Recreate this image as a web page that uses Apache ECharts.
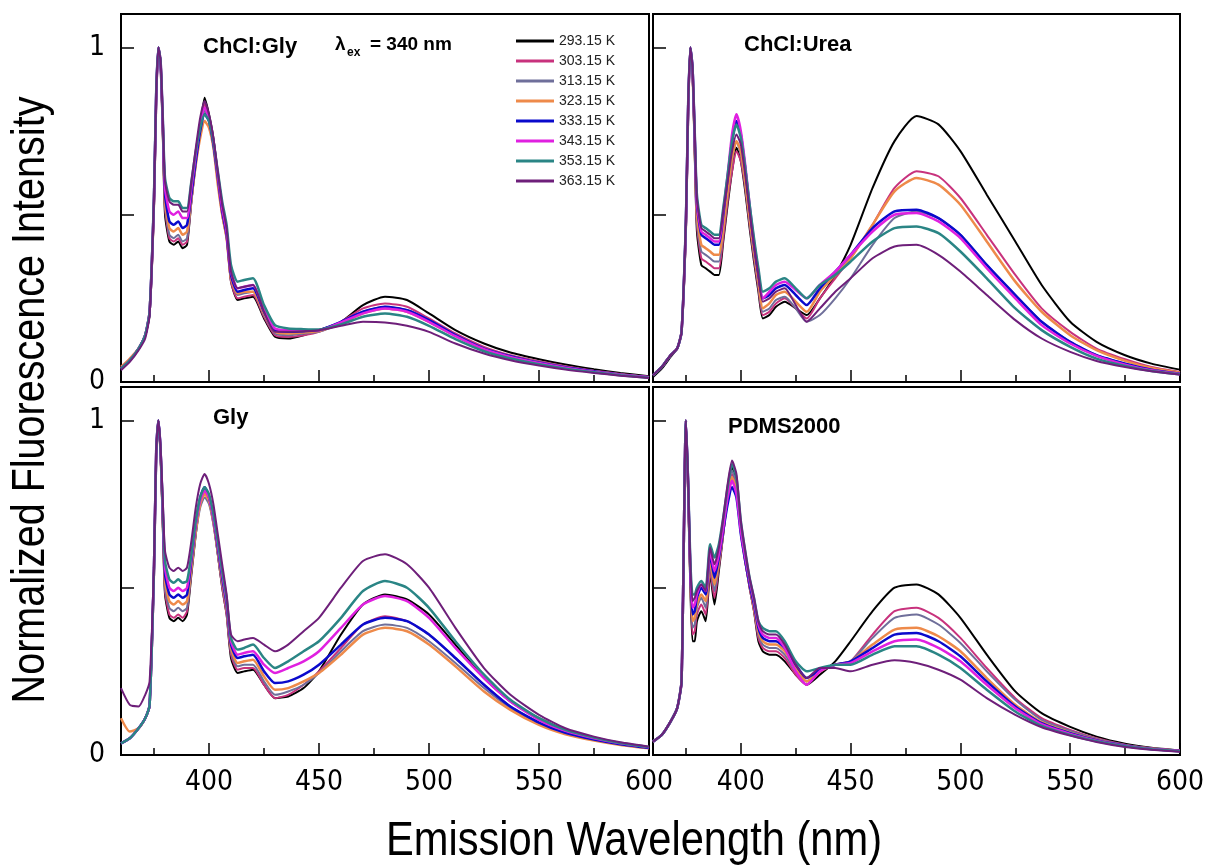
<!DOCTYPE html>
<html>
<head>
<meta charset="utf-8">
<script src="https://cdn.jsdelivr.net/npm/echarts@6/dist/echarts.min.js"></script>
<style>
html,body{margin:0;padding:0;background:#fff;}
#chart{width:1207px;height:868px;}
</style>
</head>
<body>
<div id="chart"></div>
<script>
// ---------- DATA ----------
const wavelength = [360,364,368,371,373,375,376,377,378,379,380,382,384,386,388,390,392,394,396,398,400,402,404,406,408,410,413,416,420,425,430,436,443,450,460,470,480,490,500,512,525,537,550,562,575,587,600];
const temperatures = ["293.15 K","303.15 K","313.15 K","323.15 K","333.15 K","343.15 K","353.15 K","363.15 K"];
const panelTitles = ["ChCl:Gly","ChCl:Urea","Gly","PDMS2000"];
const xTickLabels = [400,450,500,550,600];
const xMinorTicks = [375,425,475,525,575];
const yTicks = [0,0.5,1];
const yTickLabels = [0,1];

// ChCl:Gly
const chclGly293 = [0.04,0.065,0.10,0.14,0.20,0.52,0.84,1.00,0.96,0.74,0.50,0.42,0.41,0.42,0.40,0.41,0.54,0.66,0.76,0.85,0.80,0.73,0.62,0.51,0.44,0.30,0.245,0.25,0.255,0.19,0.135,0.13,0.14,0.155,0.18,0.23,0.255,0.245,0.205,0.155,0.115,0.088,0.068,0.052,0.038,0.027,0.017];
const chclGly303 = [0.04,0.065,0.10,0.14,0.21,0.53,0.85,1.00,0.95,0.75,0.52,0.43,0.42,0.43,0.41,0.42,0.54,0.66,0.76,0.83,0.79,0.72,0.60,0.50,0.43,0.30,0.25,0.255,0.26,0.195,0.14,0.135,0.14,0.15,0.18,0.22,0.235,0.225,0.19,0.145,0.105,0.08,0.062,0.047,0.034,0.024,0.015];
const chclGly313 = [0.04,0.065,0.10,0.14,0.21,0.54,0.85,1.00,0.95,0.76,0.53,0.44,0.43,0.44,0.42,0.43,0.54,0.65,0.75,0.81,0.78,0.71,0.60,0.50,0.43,0.31,0.26,0.265,0.27,0.20,0.145,0.14,0.145,0.15,0.175,0.21,0.225,0.215,0.185,0.14,0.10,0.077,0.06,0.045,0.033,0.023,0.015];
const chclGly323 = [0.045,0.07,0.10,0.14,0.21,0.54,0.85,1.00,0.95,0.76,0.54,0.46,0.45,0.46,0.44,0.45,0.55,0.65,0.73,0.78,0.76,0.70,0.59,0.50,0.43,0.31,0.265,0.27,0.27,0.205,0.15,0.145,0.148,0.152,0.175,0.205,0.22,0.21,0.18,0.138,0.10,0.076,0.058,0.044,0.032,0.022,0.014];
const chclGly333 = [0.04,0.065,0.10,0.14,0.21,0.55,0.86,1.00,0.95,0.77,0.56,0.48,0.47,0.48,0.46,0.47,0.56,0.66,0.75,0.80,0.78,0.71,0.61,0.51,0.44,0.32,0.27,0.275,0.28,0.21,0.155,0.15,0.152,0.155,0.18,0.21,0.225,0.215,0.185,0.14,0.10,0.077,0.058,0.044,0.032,0.022,0.014];
const chclGly343 = [0.04,0.065,0.10,0.14,0.21,0.55,0.86,1.00,0.96,0.78,0.58,0.51,0.50,0.51,0.49,0.49,0.58,0.68,0.77,0.82,0.79,0.72,0.62,0.52,0.45,0.33,0.28,0.285,0.29,0.215,0.16,0.155,0.155,0.155,0.178,0.205,0.22,0.21,0.18,0.137,0.098,0.075,0.057,0.043,0.031,0.022,0.014];
const chclGly353 = [0.04,0.065,0.10,0.14,0.21,0.56,0.87,1.00,0.96,0.79,0.61,0.55,0.54,0.54,0.52,0.52,0.60,0.69,0.76,0.80,0.78,0.72,0.63,0.54,0.47,0.35,0.30,0.305,0.31,0.23,0.17,0.16,0.158,0.157,0.172,0.195,0.205,0.195,0.168,0.128,0.092,0.07,0.053,0.04,0.029,0.02,0.013];
const chclGly363 = [0.035,0.06,0.095,0.13,0.20,0.55,0.86,1.00,0.96,0.79,0.60,0.54,0.53,0.53,0.51,0.51,0.60,0.70,0.79,0.84,0.80,0.73,0.63,0.53,0.46,0.33,0.28,0.285,0.29,0.21,0.15,0.15,0.152,0.155,0.168,0.18,0.178,0.168,0.15,0.115,0.085,0.065,0.049,0.037,0.027,0.019,0.012];

// ChCl:Urea
const chclUrea293 = [0.015,0.04,0.075,0.10,0.15,0.45,0.80,1.00,0.93,0.68,0.45,0.35,0.34,0.33,0.32,0.32,0.42,0.53,0.63,0.70,0.66,0.57,0.46,0.36,0.27,0.19,0.20,0.225,0.24,0.22,0.20,0.25,0.32,0.41,0.58,0.72,0.795,0.77,0.69,0.56,0.42,0.29,0.18,0.12,0.08,0.055,0.037];
const chclUrea303 = [0.02,0.045,0.08,0.10,0.15,0.46,0.80,1.00,0.93,0.69,0.47,0.37,0.36,0.35,0.34,0.34,0.43,0.54,0.63,0.69,0.66,0.58,0.47,0.37,0.28,0.20,0.21,0.235,0.25,0.22,0.19,0.25,0.31,0.37,0.47,0.58,0.63,0.615,0.55,0.44,0.32,0.22,0.15,0.10,0.068,0.045,0.03];
const chclUrea313 = [0.02,0.045,0.08,0.10,0.15,0.47,0.81,1.00,0.93,0.70,0.48,0.39,0.38,0.37,0.36,0.36,0.45,0.56,0.66,0.72,0.68,0.59,0.48,0.38,0.29,0.21,0.22,0.245,0.255,0.22,0.18,0.20,0.25,0.31,0.41,0.49,0.51,0.49,0.44,0.35,0.26,0.18,0.12,0.08,0.055,0.037,0.025];
const chclUrea323 = [0.02,0.045,0.08,0.10,0.15,0.47,0.81,1.00,0.93,0.71,0.50,0.41,0.40,0.39,0.38,0.38,0.46,0.57,0.67,0.72,0.69,0.60,0.49,0.39,0.30,0.22,0.235,0.26,0.27,0.24,0.21,0.27,0.32,0.37,0.47,0.57,0.61,0.59,0.53,0.42,0.30,0.21,0.14,0.095,0.063,0.042,0.028];
const chclUrea333 = [0.02,0.045,0.08,0.10,0.15,0.48,0.82,1.00,0.94,0.73,0.53,0.44,0.43,0.42,0.41,0.41,0.50,0.61,0.72,0.78,0.74,0.64,0.52,0.41,0.32,0.25,0.26,0.28,0.29,0.26,0.23,0.28,0.33,0.38,0.46,0.51,0.515,0.49,0.44,0.35,0.26,0.18,0.12,0.08,0.055,0.037,0.025];
const chclUrea343 = [0.02,0.045,0.08,0.10,0.15,0.48,0.82,1.00,0.94,0.74,0.54,0.45,0.44,0.43,0.42,0.42,0.51,0.62,0.74,0.80,0.75,0.65,0.53,0.42,0.33,0.25,0.27,0.29,0.30,0.275,0.25,0.29,0.33,0.38,0.45,0.50,0.505,0.48,0.43,0.34,0.25,0.17,0.115,0.078,0.052,0.035,0.024];
const chclUrea353 = [0.02,0.045,0.08,0.10,0.15,0.49,0.83,1.00,0.94,0.75,0.56,0.47,0.46,0.45,0.44,0.44,0.52,0.62,0.72,0.77,0.73,0.64,0.53,0.43,0.34,0.27,0.28,0.30,0.31,0.28,0.25,0.29,0.32,0.36,0.42,0.46,0.465,0.445,0.39,0.31,0.22,0.155,0.105,0.07,0.048,0.033,0.023];
const chclUrea363 = [0.02,0.045,0.08,0.10,0.15,0.49,0.83,1.00,0.94,0.75,0.55,0.46,0.45,0.44,0.43,0.43,0.51,0.60,0.69,0.74,0.71,0.62,0.51,0.41,0.32,0.24,0.25,0.27,0.28,0.23,0.18,0.22,0.27,0.31,0.37,0.405,0.41,0.38,0.33,0.26,0.185,0.13,0.09,0.063,0.045,0.032,0.022];

// Gly
const gly293 = [0.035,0.05,0.08,0.11,0.15,0.55,0.90,1.00,0.90,0.68,0.48,0.41,0.40,0.41,0.40,0.42,0.54,0.66,0.76,0.80,0.77,0.70,0.60,0.50,0.42,0.29,0.245,0.25,0.255,0.21,0.17,0.175,0.20,0.25,0.36,0.45,0.48,0.465,0.42,0.33,0.23,0.16,0.11,0.075,0.05,0.034,0.022];
const gly303 = [0.035,0.05,0.08,0.11,0.15,0.55,0.90,1.00,0.90,0.69,0.49,0.42,0.41,0.42,0.41,0.43,0.55,0.67,0.76,0.79,0.76,0.69,0.60,0.50,0.42,0.30,0.255,0.26,0.26,0.21,0.17,0.18,0.21,0.25,0.32,0.39,0.415,0.40,0.36,0.29,0.21,0.145,0.097,0.066,0.046,0.032,0.021];
const gly313 = [0.035,0.05,0.08,0.11,0.15,0.55,0.90,1.00,0.90,0.70,0.50,0.44,0.43,0.44,0.43,0.44,0.55,0.66,0.74,0.77,0.75,0.69,0.60,0.51,0.43,0.31,0.265,0.27,0.27,0.22,0.18,0.19,0.21,0.245,0.31,0.37,0.39,0.38,0.34,0.275,0.20,0.14,0.094,0.064,0.045,0.031,0.02];
const gly323 = [0.11,0.07,0.08,0.11,0.15,0.55,0.90,1.00,0.90,0.71,0.52,0.46,0.45,0.46,0.45,0.46,0.56,0.67,0.75,0.78,0.76,0.70,0.61,0.52,0.44,0.32,0.275,0.28,0.285,0.235,0.195,0.20,0.22,0.245,0.30,0.36,0.38,0.37,0.33,0.265,0.19,0.135,0.09,0.062,0.043,0.03,0.02];
const gly333 = [0.035,0.05,0.08,0.11,0.15,0.56,0.90,1.00,0.91,0.72,0.54,0.48,0.47,0.48,0.47,0.48,0.58,0.69,0.77,0.80,0.77,0.71,0.62,0.53,0.45,0.33,0.29,0.295,0.30,0.25,0.215,0.22,0.24,0.27,0.33,0.39,0.41,0.40,0.36,0.29,0.21,0.145,0.097,0.066,0.046,0.032,0.021];
const gly343 = [0.035,0.05,0.08,0.11,0.15,0.56,0.91,1.00,0.91,0.73,0.56,0.50,0.49,0.50,0.49,0.50,0.59,0.69,0.76,0.79,0.77,0.71,0.63,0.54,0.46,0.34,0.30,0.305,0.31,0.27,0.245,0.26,0.28,0.31,0.38,0.45,0.475,0.46,0.41,0.32,0.23,0.16,0.105,0.072,0.05,0.035,0.023];
const gly353 = [0.035,0.05,0.08,0.11,0.15,0.56,0.91,1.00,0.91,0.74,0.58,0.525,0.515,0.525,0.515,0.52,0.60,0.70,0.77,0.80,0.78,0.72,0.64,0.55,0.47,0.35,0.315,0.32,0.33,0.29,0.26,0.28,0.31,0.34,0.41,0.49,0.52,0.50,0.44,0.34,0.24,0.165,0.11,0.075,0.052,0.036,0.024];
const gly363 = [0.20,0.15,0.145,0.18,0.22,0.57,0.91,1.00,0.92,0.76,0.61,0.56,0.55,0.56,0.55,0.56,0.64,0.74,0.81,0.84,0.81,0.75,0.66,0.57,0.48,0.36,0.34,0.345,0.35,0.33,0.31,0.33,0.37,0.41,0.50,0.58,0.60,0.57,0.50,0.38,0.26,0.18,0.12,0.08,0.055,0.038,0.025];

// PDMS2000
const pdms293 = [0.04,0.06,0.10,0.14,0.22,1.00,0.78,0.50,0.34,0.34,0.40,0.43,0.40,0.54,0.45,0.55,0.66,0.78,0.86,0.82,0.68,0.58,0.50,0.43,0.34,0.31,0.30,0.30,0.28,0.24,0.21,0.24,0.28,0.34,0.43,0.50,0.51,0.48,0.41,0.30,0.19,0.125,0.084,0.055,0.034,0.022,0.014];
const pdms303 = [0.04,0.06,0.10,0.14,0.22,1.00,0.79,0.52,0.36,0.37,0.42,0.45,0.42,0.55,0.47,0.56,0.66,0.77,0.84,0.80,0.67,0.58,0.50,0.43,0.35,0.32,0.31,0.31,0.29,0.24,0.21,0.25,0.27,0.28,0.36,0.43,0.44,0.41,0.35,0.26,0.17,0.11,0.075,0.05,0.031,0.02,0.013];
const pdms313 = [0.04,0.06,0.10,0.14,0.22,1.00,0.80,0.53,0.38,0.39,0.44,0.47,0.44,0.57,0.49,0.57,0.67,0.78,0.85,0.81,0.68,0.59,0.51,0.44,0.36,0.33,0.32,0.32,0.30,0.25,0.22,0.25,0.27,0.28,0.35,0.41,0.42,0.39,0.335,0.25,0.165,0.105,0.072,0.048,0.03,0.02,0.013];
const pdms323 = [0.04,0.06,0.10,0.14,0.22,1.00,0.80,0.54,0.40,0.41,0.45,0.48,0.46,0.58,0.51,0.58,0.67,0.77,0.83,0.79,0.67,0.58,0.51,0.44,0.37,0.34,0.33,0.33,0.31,0.26,0.22,0.25,0.27,0.28,0.33,0.375,0.38,0.355,0.31,0.23,0.15,0.098,0.067,0.045,0.028,0.019,0.012];
const pdms333 = [0.04,0.06,0.10,0.14,0.22,1.00,0.81,0.55,0.42,0.43,0.47,0.50,0.48,0.60,0.53,0.59,0.67,0.75,0.80,0.77,0.66,0.58,0.51,0.45,0.38,0.35,0.34,0.34,0.32,0.27,0.23,0.255,0.27,0.28,0.32,0.36,0.365,0.34,0.295,0.22,0.145,0.095,0.065,0.044,0.028,0.018,0.012];
const pdms343 = [0.04,0.06,0.10,0.14,0.22,1.00,0.81,0.56,0.44,0.45,0.48,0.51,0.49,0.61,0.55,0.60,0.68,0.77,0.82,0.78,0.67,0.59,0.52,0.46,0.39,0.36,0.35,0.35,0.32,0.25,0.21,0.25,0.27,0.275,0.31,0.34,0.345,0.32,0.28,0.21,0.14,0.092,0.063,0.043,0.027,0.018,0.012];
const pdms353 = [0.04,0.06,0.10,0.14,0.22,1.00,0.82,0.58,0.48,0.48,0.50,0.52,0.50,0.63,0.59,0.63,0.71,0.80,0.87,0.83,0.70,0.61,0.53,0.47,0.40,0.38,0.37,0.37,0.34,0.28,0.25,0.26,0.27,0.27,0.30,0.325,0.325,0.30,0.26,0.195,0.13,0.087,0.06,0.041,0.026,0.017,0.011];
const pdms363 = [0.04,0.06,0.10,0.14,0.22,1.00,0.82,0.57,0.46,0.47,0.49,0.51,0.49,0.62,0.57,0.62,0.71,0.81,0.88,0.84,0.70,0.61,0.53,0.47,0.40,0.37,0.36,0.36,0.33,0.27,0.23,0.26,0.26,0.25,0.27,0.283,0.275,0.255,0.225,0.17,0.12,0.083,0.058,0.039,0.024,0.016,0.01];

// ---------- STYLE ----------
const colors = ['#000000','#C8327D','#6F6F9A','#EE8A4A','#0A0ACC','#E020E0','#2A8585','#6E1F7A'];
const widths = [2,2,2,2.5,2.5,2.5,2.5,2];
const NARROW = "'Liberation Sans Narrow','Arial Narrow','DejaVu Sans Condensed',sans-serif";
const ARIAL = "'Liberation Sans',Arial,Helvetica,sans-serif";

const panels = [
  [chclGly293,chclGly303,chclGly313,chclGly323,chclGly333,chclGly343,chclGly353,chclGly363],
  [chclUrea293,chclUrea303,chclUrea313,chclUrea323,chclUrea333,chclUrea343,chclUrea353,chclUrea363],
  [gly293,gly303,gly313,gly323,gly333,gly343,gly353,gly363],
  [pdms293,pdms303,pdms313,pdms323,pdms333,pdms343,pdms353,pdms363]
];

const gridBoxes = [
  {left:121, top:14, width:528, height:368},
  {left:653, top:14, width:527, height:368},
  {left:121, top:387, width:528, height:368},
  {left:653, top:387, width:527, height:368}
];

const grid = gridBoxes.map(b => Object.assign({show:true, borderColor:'#000', borderWidth:2, backgroundColor:'rgba(0,0,0,0)'}, b));

const xAxis = [];
const yAxis = [];
gridBoxes.forEach((b, g) => {
  xAxis.push({
    gridIndex:g, type:'value', min:360, max:600, position:'bottom',
    axisLine:{show:true, onZero:false, lineStyle:{color:'#000', width:2}},
    axisTick:{show:true, inside:true, length:12, customValues:xTickLabels, lineStyle:{color:'#000', width:1.5}},
    axisLabel:{show:g>=2, customValues:xTickLabels, margin:14, fontSize:28, fontFamily:NARROW, color:'#000'},
    splitLine:{show:false}
  });
  xAxis.push({
    gridIndex:g, type:'value', min:360, max:600, position:'bottom',
    axisLine:{show:false},
    axisTick:{show:true, inside:true, length:7, customValues:xMinorTicks, lineStyle:{color:'#000', width:1.5}},
    axisLabel:{show:false},
    splitLine:{show:false}
  });
  yAxis.push({
    gridIndex:g, type:'value', min:0, max:1.1, position:'left',
    axisLine:{show:true, onZero:false, lineStyle:{color:'#000', width:2}},
    axisTick:{show:true, inside:true, length:13, customValues:yTicks, lineStyle:{color:'#000', width:1.5}},
    axisLabel:{show:g%2===0, customValues:yTickLabels, margin:16, fontSize:28, fontFamily:NARROW, color:'#000', formatter:v=>String(v)},
    splitLine:{show:false}
  });
});

const series = [];
panels.forEach((arrs, g) => {
  arrs.forEach((arr, k) => {
    series.push({
      name: temperatures[k],
      type:'line',
      xAxisIndex: 2*g, yAxisIndex: g,
      data: wavelength.map((w,i)=>[w, arr[i]]),
      showSymbol:false, symbol:'none',
      smooth:0.2,
      color: colors[k],
      lineStyle:{color:colors[k], width:widths[k]},
      itemStyle:{color:colors[k]},
      emphasis:{disabled:true},
      animation:false
    });
  });
});

function txt(text, x, y, size, weight, family, align, extra){
  return Object.assign({
    type:'text', x:x, y:y, silent:true,
    style:{text:text, x:0, y:0, fill:'#000', fontSize:size, fontWeight:weight, fontFamily:family,
           textAlign:align||'left', align:align||'left', textVerticalAlign:'middle', verticalAlign:'middle'}
  }, extra||{});
}

const titlePos = [[203,47],[744,45],[213,418],[728,427]];
const graphics = [];
panelTitles.forEach((t,i)=>{ graphics.push(txt(t, titlePos[i][0], titlePos[i][1], 22, 'bold', ARIAL, 'left')); });
graphics.push(txt('λ', 335, 45, 19, 'bold', ARIAL, 'left'));
graphics.push(txt('ex', 347, 53, 12, 'bold', ARIAL, 'left'));
graphics.push(txt('= 340 nm', 370, 45, 19, 'bold', ARIAL, 'left'));
graphics.push(txt('Emission Wavelength (nm)', 634, 841, 49, 'normal', ARIAL, 'center', {scaleX:0.85}));
graphics.push(txt('Normalized Fluorescence Intensity', 31, 400, 46, 'normal', ARIAL, 'center', {rotation:Math.PI/2, scaleX:0.86}));

const option = {
  backgroundColor:'#fff',
  animation:false,
  grid: grid,
  xAxis: xAxis,
  yAxis: yAxis,
  legend:{
    orient:'vertical', left:516, top:34, padding:0,
    itemWidth:38, itemHeight:3, itemGap:6, icon:'rect',
    textStyle:{fontSize:14, fontFamily:ARIAL, color:'#222', lineHeight:14},
    data: temperatures,
    selectedMode:false
  },
  graphic: graphics,
  series: series
};

const chart = echarts.init(document.getElementById('chart'), null, {renderer:'canvas'});
chart.setOption(option);
</script>
</body>
</html>
